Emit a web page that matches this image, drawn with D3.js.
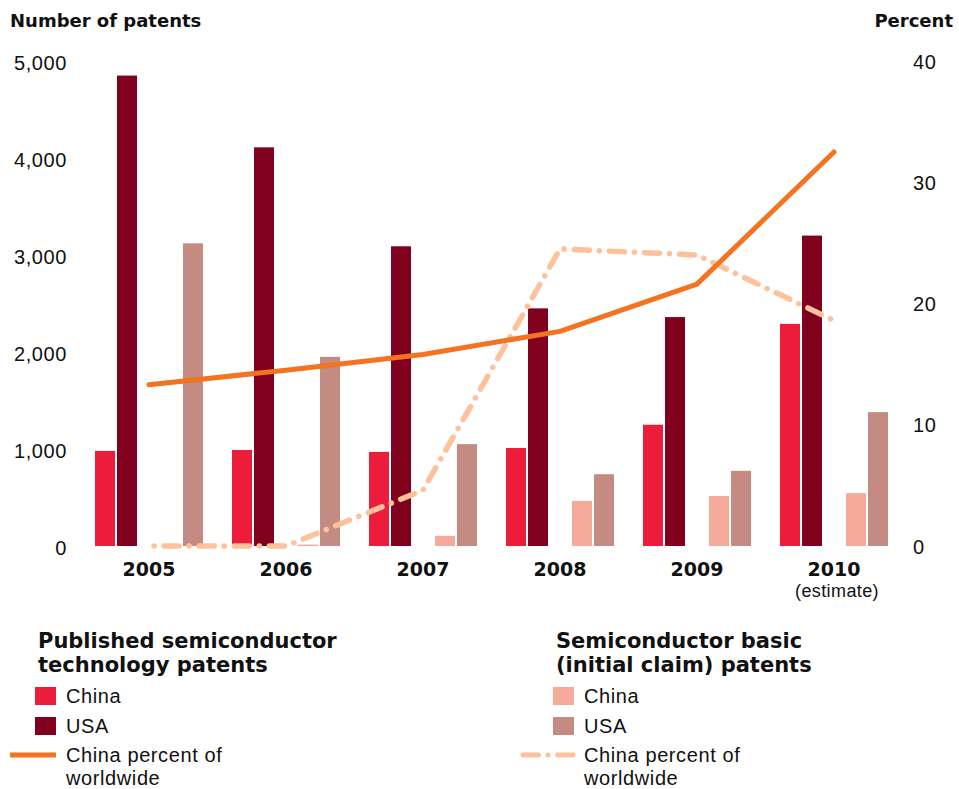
<!DOCTYPE html>
<html>
<head>
<meta charset="utf-8">
<script src="https://cdn.jsdelivr.net/npm/d3@7"></script>
<style>
    body { margin: 0; background: #fff; }
    svg text { font-family: "Liberation Sans", Arial, sans-serif; fill: #111; }
    .bold { font-family: "DejaVu Sans", sans-serif !important; font-weight: bold; }
</style>
</head>
<body>
<svg id="chart" width="959" height="789"></svg>
<script>
// Categories
let years = ["2005", "2006", "2007", "2008", "2009", "2010"];

// Published semiconductor technology patents
let pubChina = [980, 990, 970, 1010, 1250, 2290];
let pubUSA = [4850, 4110, 3090, 2450, 2360, 3200];
let pubPct = [13.3, 14.5, 15.8, 17.7, 21.6, 32.5];

// Semiconductor basic (initial claim) patents
let basicChina = [0, 15, 105, 465, 515, 545];
let basicUSA = [3120, 1950, 1050, 740, 775, 1380];
let basicPct = [0, 0, 4.6, 24.5, 24.0, 18.6];

// Axis ticks
let leftTicks = [0, 1000, 2000, 3000, 4000, 5000];
let rightTicks = [0, 10, 20, 30, 40];

let colors = {
    pubChina: "#ec1c3a",
    pubUSA: "#80001d",
    basicChina: "#f5aa9a",
    basicUSA: "#c48b83",
    pubLine: "#f47321",
    basicLine: "#fdc29c"
};

let svg = d3.select("#chart");

// Scales
let x = d3.scaleBand().domain(years).range([80.5, 902.5]).paddingInner(29 / 137).paddingOuter(14.5 / 137);
let slots = ["pubChina", "pubUSA", "gap", "basicChina", "basicUSA"];
let xSub = d3.scaleBand().domain(slots).range([0, x.bandwidth()]).paddingInner(2 / 22);
let yLeft = d3.scaleLinear().domain([0, 5000]).range([546, 61]);
let yRight = d3.scaleLinear().domain([0, 40]).range([546, 61]);

// Axis titles
svg.append("text").attr("class", "bold").attr("x", 10).attr("y", 27)
    .attr("font-size", "18px").text("Number of patents");
svg.append("text").attr("class", "bold").attr("x", 953).attr("y", 27)
    .attr("text-anchor", "end").attr("font-size", "18px").text("Percent");

// Left axis
let gLeft = svg.append("g").attr("transform", "translate(67,0)")
    .call(d3.axisLeft(yLeft).tickValues(leftTicks).tickFormat(d3.format(",")).tickSize(0).tickPadding(0));
gLeft.select(".domain").remove();
gLeft.selectAll("text").attr("font-size", "20px").attr("letter-spacing", "0.6px").attr("dy", "0.4em")
    .style("font-family", "Liberation Sans, Arial, sans-serif").attr("fill", "#111");

// Right axis
let gRight = svg.append("g").attr("transform", "translate(913,0)")
    .call(d3.axisRight(yRight).tickValues(rightTicks).tickSize(0).tickPadding(0));
gRight.select(".domain").remove();
gRight.selectAll("text").attr("font-size", "20px").attr("letter-spacing", "0.6px").attr("dy", "0.35em")
    .style("font-family", "Liberation Sans, Arial, sans-serif").attr("fill", "#111");

// Bars
let barSeries = [
    { key: "pubChina", values: pubChina },
    { key: "pubUSA", values: pubUSA },
    { key: "basicChina", values: basicChina },
    { key: "basicUSA", values: basicUSA }
];
barSeries.forEach(function (s) {
    svg.append("g").selectAll("rect")
        .data(s.values)
        .join("rect")
        .attr("x", (d, i) => x(years[i]) + xSub(s.key))
        .attr("width", xSub.bandwidth())
        .attr("y", d => yLeft(d))
        .attr("height", d => yLeft(0) - yLeft(d))
        .attr("fill", colors[s.key]);
});

// Lines
let line = d3.line()
    .x((d, i) => x(years[i]) + x.bandwidth() / 2)
    .y(d => yRight(d));

svg.append("path").datum(basicPct)
    .attr("d", line)
    .attr("fill", "none")
    .attr("stroke", colors.basicLine)
    .attr("stroke-width", 5.5)
    .attr("stroke-linecap", "round")
    .attr("stroke-linejoin", "round")
    .attr("stroke-dasharray", "15,10,0.1,10")
    .attr("stroke-dashoffset", 20);

svg.append("path").datum(pubPct)
    .attr("d", line)
    .attr("fill", "none")
    .attr("stroke", colors.pubLine)
    .attr("stroke-width", 5)
    .attr("stroke-linecap", "round")
    .attr("stroke-linejoin", "round");

// Year labels
svg.append("g").selectAll("text")
    .data(years)
    .join("text")
    .attr("class", "bold")
    .attr("x", d => x(d) + x.bandwidth() / 2)
    .attr("y", 576)
    .attr("text-anchor", "middle")
    .attr("font-size", "19px")
    .text(d => d);
svg.append("text")
    .attr("x", x("2010") + x.bandwidth() / 2 + 3)
    .attr("y", 597)
    .attr("text-anchor", "middle")
    .attr("font-size", "18px")
    .attr("letter-spacing", "0.4px")
    .text("(estimate)");

// Legends
function legend(gx, lineX0, title, items) {
    let g = svg.append("g");
    g.append("text").attr("class", "bold").attr("x", gx).attr("y", 648)
        .attr("font-size", "21px").text(title[0]);
    g.append("text").attr("class", "bold").attr("x", gx).attr("y", 672)
        .attr("font-size", "21px").text(title[1]);

    items.forEach(function (it, i) {
        let yy = 687 + i * 30;
        if (it.type === "rect") {
            g.append("rect").attr("x", gx - 3).attr("y", yy).attr("width", 21).attr("height", 18)
                .attr("fill", it.color);
            g.append("text").attr("x", gx + 28).attr("y", yy + 16)
                .attr("font-size", "20px").attr("letter-spacing", "0.6px").text(it.label);
        } else {
            g.append("line").attr("x1", lineX0).attr("x2", gx + 18).attr("y1", 755).attr("y2", 755)
                .attr("stroke", it.color).attr("stroke-width", 5)
                .attr("stroke-linecap", it.dash ? "round" : "butt")
                .attr("stroke-dasharray", it.dash || null);
            g.append("text").attr("x", gx + 28).attr("y", 762)
                .attr("font-size", "20px").attr("letter-spacing", "0.6px").text(it.label[0]);
            g.append("text").attr("x", gx + 28).attr("y", 785)
                .attr("font-size", "20px").attr("letter-spacing", "0.6px").text(it.label[1]);
        }
    });
}

legend(38, 10, ["Published semiconductor", "technology patents"], [
    { type: "rect", color: colors.pubChina, label: "China" },
    { type: "rect", color: colors.pubUSA, label: "USA" },
    { type: "line", color: colors.pubLine, label: ["China percent of", "worldwide"] }
]);
legend(556, 523, ["Semiconductor basic", "(initial claim) patents"], [
    { type: "rect", color: colors.basicChina, label: "China" },
    { type: "rect", color: colors.basicUSA, label: "USA" },
    { type: "line", color: colors.basicLine, dash: "15.5,9.5,0.1,9.5", label: ["China percent of", "worldwide"] }
]);
</script>
</body>
</html>
